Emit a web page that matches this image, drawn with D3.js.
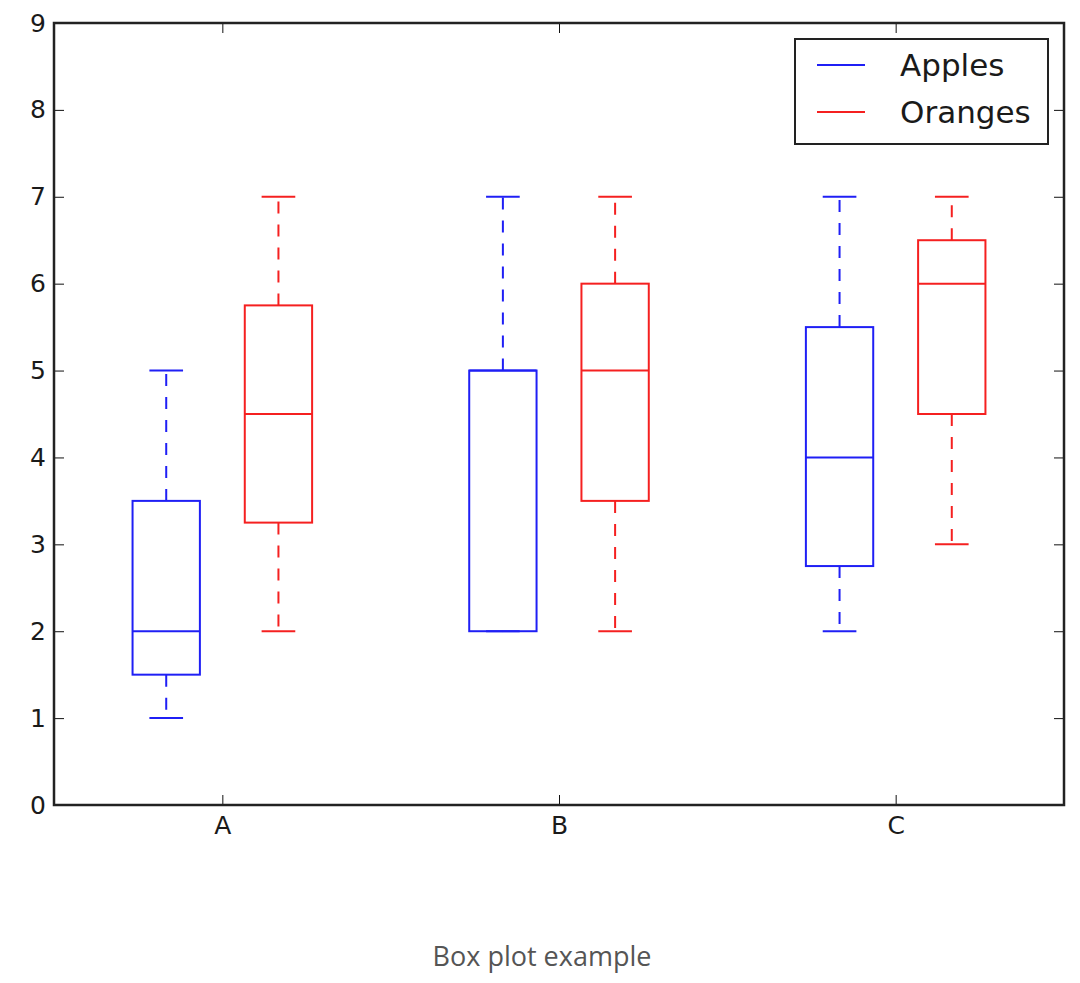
<!DOCTYPE html>
<html>
<head>
<meta charset="utf-8">
<script src="https://cdn.jsdelivr.net/npm/d3@7"></script>
<style>
    body { margin: 0; background: #fff; }
    svg { display: block; }
</style>
</head>
<body>
<div id="chart"></div>
<script>
// DATA
const categories = ["A", "B", "C"];
const seriesNames = ["Apples", "Oranges"];
const seriesColors = ["#1f1ff5", "#f52020"];
// each entry: [whisker low, q1, median, q3, whisker high]
const applesStats = [
    [1, 1.5, 2, 3.5, 5],
    [2, 2, 5, 5, 7],
    [2, 2.75, 4, 5.5, 7]
];
const orangesStats = [
    [2, 3.25, 4.5, 5.75, 7],
    [2, 3.5, 5, 6, 7],
    [3, 4.5, 6, 6.5, 7]
];
const yTicks = [0, 1, 2, 3, 4, 5, 6, 7, 8, 9];
const captionText = "Box plot example";

const W = 1080, H = 983;
const margin = { top: 23, right: 16, bottom: 178, left: 54 };

const svg = d3.select("#chart").append("svg")
    .attr("width", W)
    .attr("height", H);

// SCALES
const x = d3.scaleLinear()
    .domain([0, categories.length])
    .range([margin.left, W - margin.right]);

const y = d3.scaleLinear()
    .domain([0, 9])
    .range([H - margin.bottom, margin.top]);

const catPos = categories.map((c, i) => i + 0.5);
const offset = [-1 / 6, 1 / 6];   // in x units
const boxW = 0.2, capW = 0.1;

// AXES (ticks point inward, like matplotlib classic)
const fontAxis = "'DejaVu Sans', sans-serif";

const yAxis = svg.append("g")
    .attr("transform", "translate(" + x(0) + ",0)")
    .call(d3.axisLeft(y).tickValues(yTicks).tickSizeInner(-10).tickSizeOuter(0).tickPadding(8));

const yAxisR = svg.append("g")
    .attr("transform", "translate(" + x(categories.length) + ",0)")
    .call(d3.axisRight(y).tickValues(yTicks).tickSizeInner(-10).tickSizeOuter(0).tickFormat(""));

const xAxis = svg.append("g")
    .attr("transform", "translate(0," + y(0) + ")")
    .call(d3.axisBottom(x).tickValues(catPos).tickSizeInner(-10).tickSizeOuter(0).tickPadding(11)
        .tickFormat((d, i) => categories[i]));

const xAxisTop = svg.append("g")
    .attr("transform", "translate(0," + y(9) + ")")
    .call(d3.axisTop(x).tickValues(catPos).tickSizeInner(-10).tickSizeOuter(0).tickFormat(""));

[yAxis, yAxisR, xAxis, xAxisTop].forEach(a => {
    a.select(".domain").remove();
    a.selectAll(".tick line").attr("stroke", "#111").attr("stroke-width", 1);
    a.selectAll(".tick text")
        .style("font-family", fontAxis)
        .style("font-size", "25px")
        .attr("fill", "#1a1a1a");
});

// frame
svg.append("rect")
    .attr("x", x(0)).attr("y", y(9))
    .attr("width", x(categories.length) - x(0))
    .attr("height", y(0) - y(9))
    .attr("fill", "none")
    .attr("stroke", "#222")
    .attr("stroke-width", 2.5);

// BOXES
const allStats = [applesStats, orangesStats];

allStats.forEach((stats, s) => {
    const color = seriesColors[s];
    const g = svg.append("g").attr("class", "series-" + seriesNames[s]);

    stats.forEach((d, i) => {
        const c = catPos[i] + offset[s];
        const [lo, q1, med, q3, hi] = d;

        // whiskers
        g.append("line")
            .attr("x1", x(c)).attr("x2", x(c))
            .attr("y1", y(q3)).attr("y2", y(hi))
            .attr("stroke", color).attr("stroke-width", 2)
            .attr("stroke-dasharray", "12,11");
        g.append("line")
            .attr("x1", x(c)).attr("x2", x(c))
            .attr("y1", y(q1)).attr("y2", y(lo))
            .attr("stroke", color).attr("stroke-width", 2)
            .attr("stroke-dasharray", "12,11");

        // caps
        [lo, hi].forEach(v => {
            g.append("line")
                .attr("x1", x(c - capW / 2)).attr("x2", x(c + capW / 2))
                .attr("y1", y(v)).attr("y2", y(v))
                .attr("stroke", color).attr("stroke-width", 2);
        });

        // box
        g.append("rect")
            .attr("x", x(c - boxW / 2))
            .attr("y", y(q3))
            .attr("width", x(c + boxW / 2) - x(c - boxW / 2))
            .attr("height", y(q1) - y(q3))
            .attr("fill", "none")
            .attr("stroke", color).attr("stroke-width", 2);

        // median
        g.append("line")
            .attr("x1", x(c - boxW / 2)).attr("x2", x(c + boxW / 2))
            .attr("y1", y(med)).attr("y2", y(med))
            .attr("stroke", color).attr("stroke-width", 2);
    });
});

// LEGEND
const legend = svg.append("g").attr("transform", "translate(795,39)");
legend.append("rect")
    .attr("width", 253).attr("height", 105)
    .attr("fill", "#fff")
    .attr("stroke", "#222").attr("stroke-width", 2);

seriesNames.forEach((name, i) => {
    const ly = 26 + i * 47;
    legend.append("line")
        .attr("x1", 22).attr("x2", 70)
        .attr("y1", ly).attr("y2", ly)
        .attr("stroke", seriesColors[i]).attr("stroke-width", 2);
    legend.append("text")
        .text(name)
        .attr("x", 105).attr("y", ly)
        .attr("dy", "0.35em")
        .style("font-family", fontAxis)
        .style("font-size", "31px")
        .attr("fill", "#1a1a1a");
});

// CAPTION
svg.append("text")
    .text(captionText)
    .attr("x", 542).attr("y", 966)
    .style("text-anchor", "middle")
    .style("font-family", "'Open Sans', sans-serif")
    .style("font-size", "27px")
    .attr("fill", "#555");
</script>
</body>
</html>
